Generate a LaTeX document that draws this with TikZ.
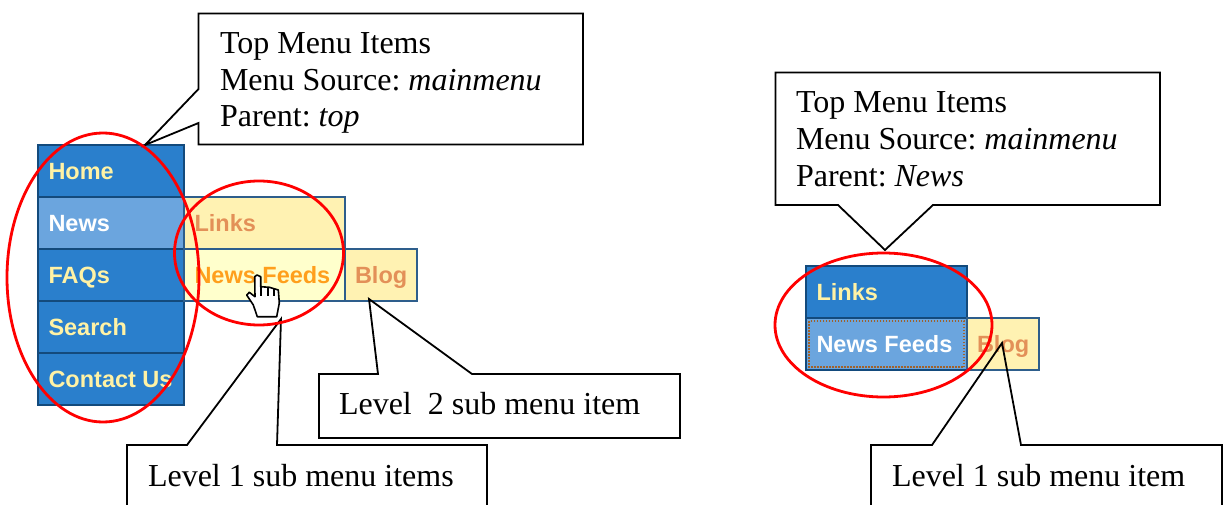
\documentclass[tikz,border=0pt]{standalone}
\usepackage{fontspec}
\setmainfont{Liberation Serif}
\newfontfamily\menufont{Liberation Sans}[BoldFont={Liberation Sans Bold}]
\definecolor{menublue}{HTML}{2A7FCC}
\definecolor{menuedge}{HTML}{134A7C}
\definecolor{menuhi}{HTML}{6BA5DE}
\definecolor{menutxt}{HTML}{FFF2A5}
\definecolor{subfill}{HTML}{FFF2B2}
\definecolor{subedge}{HTML}{2E5E8C}
\definecolor{subtxt}{HTML}{E39058}
\definecolor{activefill}{HTML}{FFFFCC}
\definecolor{activetxt}{HTML}{FF9F1C}
\definecolor{dotbrown}{HTML}{A0622A}
\tikzset{
  cell/.style={rectangle,draw,line width=1.8pt,inner sep=0pt,outer sep=0pt,anchor=north west},
  topcell/.style={cell,draw=menuedge,fill=menublue,minimum width=146pt,minimum height=52pt},
  hicell/.style={topcell,fill=menuhi},
  subcell/.style={cell,draw=subedge,fill=subfill,minimum width=161pt,minimum height=52pt},
  activecell/.style={subcell,fill=activefill},
  blogcell/.style={subcell,minimum width=72pt},
  rtopcell/.style={topcell,minimum width=161pt},
  rhicell/.style={hicell,minimum width=161pt},
  menutext/.style={anchor=base west,inner sep=0pt,outer sep=0pt,text=menutxt,font=\fontsize{23.5pt}{26pt}\menufont\bfseries},
  hitext/.style={menutext,text=white},
  subtext/.style={menutext,text=subtxt},
  activetext/.style={menutext,text=activetxt},
  callout/.style={draw=black,line width=1.8pt,line join=miter},
  calltext/.style={anchor=base west,inner sep=0pt,outer sep=0pt,font=\fontsize{32pt}{36pt}\selectfont\frenchspacing},
  ring/.style={draw=red,line width=2.8pt},
}
\begin{document}
\begin{tikzpicture}[x=1pt,y=-1pt]
\useasboundingbox (0,0) rectangle (1223,505);
\fill[white] (0,0) rectangle (1223,505);
% left menu
\node[topcell] (home) at (38,145) {};
\node[hicell] (news) at (38,197) {};
\node[topcell] (faqs) at (38,249) {};
\node[topcell] (search) at (38,301) {};
\node[topcell] (contact) at (38,353) {};
\node[subcell] (links) at (184,197) {};
\node[activecell] (feeds) at (184,249) {};
\node[blogcell] (blog) at (345,249) {};
\node[menutext] (homet) at ([shift={(10.5,34.5)}]home.north west) {Home};
\node[hitext] (newst) at ([shift={(10.5,34.5)}]news.north west) {News};
\node[menutext] (faqst) at ([shift={(10.5,34.5)}]faqs.north west) {FAQs};
\node[menutext] (searcht) at ([shift={(10.5,34.5)}]search.north west) {Search};
\node[menutext] (contactt) at ([shift={(10.5,34.5)}]contact.north west) {Contact Us};
\node[subtext] (linkst) at ([shift={(10.5,34.5)}]links.north west) {Links};
\node[activetext] (feedst) at ([shift={(10.5,34.5)}]feeds.north west) {News Feeds};
\node[subtext] (blogt) at ([shift={(10,34.5)}]blog.north west) {Blog};
% hand cursor
\draw[fill=white,line width=1.6pt,line join=round]
 (254.7,276.7) -- (257,275) -- (260.7,276.7) -- (260.7,286.7) -- (269.3,287.3) -- (278.3,290)
 -- (279.3,303) -- (276.7,316.7) -- (257.3,316.7) -- (253.3,305) -- (246.7,295) -- (249.3,292.3) -- (255,296.7) -- cycle;
\draw[line width=1.2pt] (261,287) -- (261,296) (268,288) -- (268,296) (274,289) -- (274,296);
% right menu
\node[rtopcell] (rlinks) at (806,266) {};
\node[rhicell] (rfeeds) at (806,318) {};
\node[blogcell] (rblog) at (967,318) {};
\draw[dotbrown,line width=1.3pt,dash pattern=on 1.5pt off 1.5pt] ([shift={(3,3)}]rfeeds.north west) rectangle ([shift={(-3,-3)}]rfeeds.south east);
\node[menutext] (rlinkst) at ([shift={(10.5,34.5)}]rlinks.north west) {Links};
\node[hitext] (rfeedst) at ([shift={(10.5,34.5)}]rfeeds.north west) {News Feeds};
\node[subtext] (rblogt) at ([shift={(10,34.5)}]rblog.north west) {Blog};
% callouts
\coordinate (tipA) at (145,145);
\coordinate (tipB) at (885,250);
\coordinate (tipC) at (369,299);
\coordinate (tipD) at (281,319);
\coordinate (tipE) at (1002,343);
\draw[callout] (198.5,89) -- (198.5,13.5) -- (583,13.5) -- (583,144.5) -- (198.5,144.5) -- (198.5,123) -- (tipA) -- cycle;
\draw[callout] (838,205) -- (775.5,205) -- (775.5,72.5) -- (1160,72.5) -- (1160,205) -- (933,205) -- (tipB) -- cycle;
\draw[callout] (378,374) -- (319,374) -- (319,438) -- (680,438) -- (680,374) -- (472,374) -- (tipC) -- cycle;
\draw[callout] (127,505) -- (127,445) -- (187,445) -- (tipD) -- (277,445) -- (487,445) -- (487,505);
\draw[callout] (871,505) -- (871,445) -- (932,445) -- (tipE) -- (1021,445) -- (1222,445) -- (1222,505);
\node[calltext] (a1) at (220,54) {Top Menu Items};
\node[calltext] (a2) at (220,91) {Menu Source: \textit{mainmenu}};
\node[calltext] (a3) at (220,127) {Parent: \textit{top}};
\node[calltext] (b1) at (796,113) {Top Menu Items};
\node[calltext] (b2) at (796,150) {Menu Source: \textit{mainmenu}};
\node[calltext] (b3) at (796,186) {Parent: \textit{News}};
\node[calltext] (c1) at (339,414) {Level\ \ 2 sub menu item};
\node[calltext] (d1) at (148,486) {Level 1 sub menu items};
\node[calltext] (e1) at (892,486) {Level 1 sub menu item};
% rings
\draw[ring] (103,277.5) ellipse [x radius=96,y radius=144.5];
\draw[ring] (259,253) ellipse [x radius=84.5,y radius=72];
\draw[ring] (883.5,325) ellipse [x radius=108.5,y radius=72];
\end{tikzpicture}
\end{document}
